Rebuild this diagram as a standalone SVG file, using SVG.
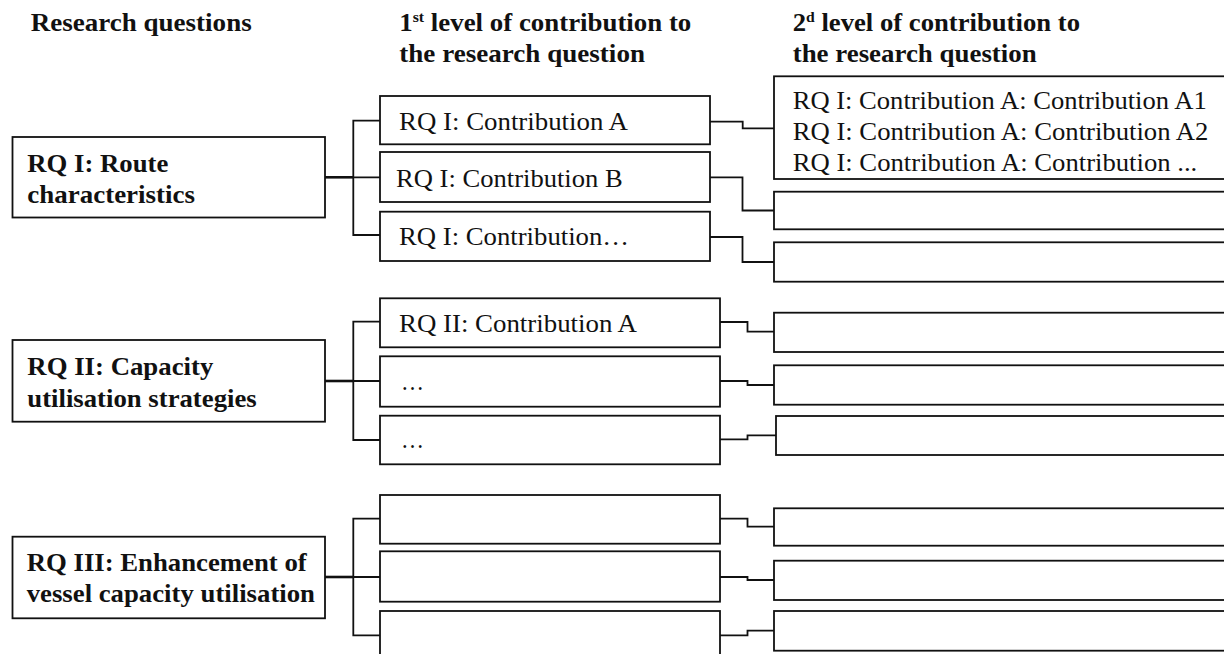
<svg xmlns="http://www.w3.org/2000/svg" width="1224" height="654" viewBox="0 0 1224 654">
  <style>
    .box { fill: #ffffff; stroke: #111111; stroke-width: 1.8; }
    .wire { fill: none; stroke: #111111; stroke-width: 1.8; }
    .trunk { fill: none; stroke: #111111; stroke-width: 2.6; }
    .head { font-family: "Liberation Serif", "Times New Roman", serif; font-weight: bold; font-size: 25.5px; fill: #111111; }
    .rq { font-family: "Liberation Serif", "Times New Roman", serif; font-weight: bold; font-size: 25.5px; fill: #111111; }
    .txt { font-family: "Liberation Serif", "Times New Roman", serif; font-size: 25.5px; fill: #111111; }
    .sup { font-size: 15px; }
  </style>
  <rect width="1224" height="654" fill="#ffffff"/>

  <!-- column headings -->
  <g id="headings">
    <text class="head" x="30.7" y="30.7" textLength="221" lengthAdjust="spacingAndGlyphs">Research questions</text>
    <text class="head" x="399.3" y="30.7" textLength="292" lengthAdjust="spacingAndGlyphs">1<tspan class="sup" dy="-9">st</tspan><tspan dy="9"> level of contribution to</tspan></text>
    <text class="head" x="399.3" y="61.7" textLength="245.7" lengthAdjust="spacingAndGlyphs">the research question</text>
    <text class="head" x="792.7" y="30.7" textLength="287.3" lengthAdjust="spacingAndGlyphs">2<tspan class="sup" dy="-9">d</tspan><tspan dy="9"> level of contribution to</tspan></text>
    <text class="head" x="792.7" y="61.7" textLength="244" lengthAdjust="spacingAndGlyphs">the research question</text>
  </g>

  <!-- connectors -->
  <g id="connectors">
    <path class="trunk" d="M325 177.3 H353.3"/>
    <path class="wire" d="M380 120.7 H353.3 V235 H380 M353.3 177.3 H380"/>
    <path class="trunk" d="M325 381 H353.3"/>
    <path class="wire" d="M380 321.7 H353.3 V440 H380 M353.3 381 H380"/>
    <path class="trunk" d="M325 577 H353.3"/>
    <path class="wire" d="M380 518.7 H353.3 V635.3 H380 M353.3 577 H380"/>

    <path class="wire" d="M710 121.7 H742.7 V128.3 H774"/>
    <path class="wire" d="M710 177.3 H742.5 V210.5 H774"/>
    <path class="wire" d="M710 237 H742.5 V262 H774"/>

    <path class="wire" d="M720 322 H747.5 V331.7 H774"/>
    <path class="wire" d="M720 381 H747.5 V385 H774"/>
    <path class="wire" d="M720 439.3 H747.5 V435.3 H776"/>

    <path class="wire" d="M720 518.7 H747.5 V526.7 H774"/>
    <path class="wire" d="M720 577 H747.5 V580 H774"/>
    <path class="wire" d="M720 635.3 H747.5 V630.7 H774"/>
  </g>

  <!-- research questions -->
  <g id="rq1">
    <rect class="box" x="12.5" y="137" width="312.5" height="80.5"/>
    <text class="rq" x="27.3" y="171.7" textLength="141" lengthAdjust="spacingAndGlyphs">RQ I: Route</text>
    <text class="rq" x="27.3" y="203.3" textLength="167.7" lengthAdjust="spacingAndGlyphs">characteristics</text>
  </g>
  <g id="rq2">
    <rect class="box" x="12.5" y="340" width="312.5" height="81.7"/>
    <text class="rq" x="27.3" y="375" textLength="186" lengthAdjust="spacingAndGlyphs">RQ II: Capacity</text>
    <text class="rq" x="27.3" y="406.7" textLength="229.4" lengthAdjust="spacingAndGlyphs">utilisation strategies</text>
  </g>
  <g id="rq3">
    <rect class="box" x="12.5" y="536.7" width="312.5" height="81.6"/>
    <text class="rq" x="26.7" y="570.7" textLength="280" lengthAdjust="spacingAndGlyphs">RQ III: Enhancement of</text>
    <text class="rq" x="26.7" y="601.7" textLength="288.3" lengthAdjust="spacingAndGlyphs">vessel capacity utilisation</text>
  </g>

  <!-- first level contributions -->
  <g id="rq1-a">
    <rect class="box" x="380" y="96" width="330" height="48.3"/>
    <text class="txt" x="399" y="130" textLength="229" lengthAdjust="spacingAndGlyphs">RQ I: Contribution A</text>
  </g>
  <g id="rq1-b">
    <rect class="box" x="380" y="152" width="330" height="50"/>
    <text class="txt" x="396" y="186.7" textLength="226.7" lengthAdjust="spacingAndGlyphs">RQ I: Contribution B</text>
  </g>
  <g id="rq1-c">
    <rect class="box" x="380" y="211.7" width="330" height="49.3"/>
    <text class="txt" x="399" y="245" textLength="230" lengthAdjust="spacingAndGlyphs">RQ I: Contribution…</text>
  </g>
  <g id="rq2-a">
    <rect class="box" x="380" y="298.3" width="340" height="49"/>
    <text class="txt" x="399" y="331.7" textLength="238" lengthAdjust="spacingAndGlyphs">RQ II: Contribution A</text>
  </g>
  <g id="rq2-b">
    <rect class="box" x="380" y="356.3" width="340" height="50.4"/>
    <text class="txt" x="401" y="390" textLength="23" lengthAdjust="spacingAndGlyphs">…</text>
  </g>
  <g id="rq2-c">
    <rect class="box" x="380" y="415.7" width="340" height="48.6"/>
    <text class="txt" x="401" y="448.3" textLength="23" lengthAdjust="spacingAndGlyphs">…</text>
  </g>
  <g id="rq3-a">
    <rect class="box" x="380" y="495" width="340" height="48.7"/>
  </g>
  <g id="rq3-b">
    <rect class="box" x="380" y="551.3" width="340" height="50.4"/>
  </g>
  <g id="rq3-c">
    <rect class="box" x="380" y="611" width="340" height="60"/>
  </g>

  <!-- second level contributions -->
  <g id="rq1-a-sub">
    <rect class="box" x="774" y="76.3" width="470" height="102.7"/>
    <text class="txt" x="792.7" y="109.3" textLength="414" lengthAdjust="spacingAndGlyphs">RQ I: Contribution A: Contribution A1</text>
    <text class="txt" x="792.7" y="140" textLength="415.6" lengthAdjust="spacingAndGlyphs">RQ I: Contribution A: Contribution A2</text>
    <text class="txt" x="792.7" y="170.7" textLength="404.6" lengthAdjust="spacingAndGlyphs">RQ I: Contribution A: Contribution ...</text>
  </g>
  <g id="rq1-b-sub"><rect class="box" x="774" y="191.7" width="470" height="37.6"/></g>
  <g id="rq1-c-sub"><rect class="box" x="774" y="242.3" width="470" height="39.4"/></g>
  <g id="rq2-a-sub"><rect class="box" x="774" y="312.7" width="470" height="39.3"/></g>
  <g id="rq2-b-sub"><rect class="box" x="774" y="365.3" width="470" height="39.4"/></g>
  <g id="rq2-c-sub"><rect class="box" x="776" y="416" width="470" height="39"/></g>
  <g id="rq3-a-sub"><rect class="box" x="774" y="508.3" width="470" height="37.4"/></g>
  <g id="rq3-b-sub"><rect class="box" x="774" y="560.7" width="470" height="39.3"/></g>
  <g id="rq3-c-sub"><rect class="box" x="774" y="611" width="470" height="39.7"/></g>
</svg>
